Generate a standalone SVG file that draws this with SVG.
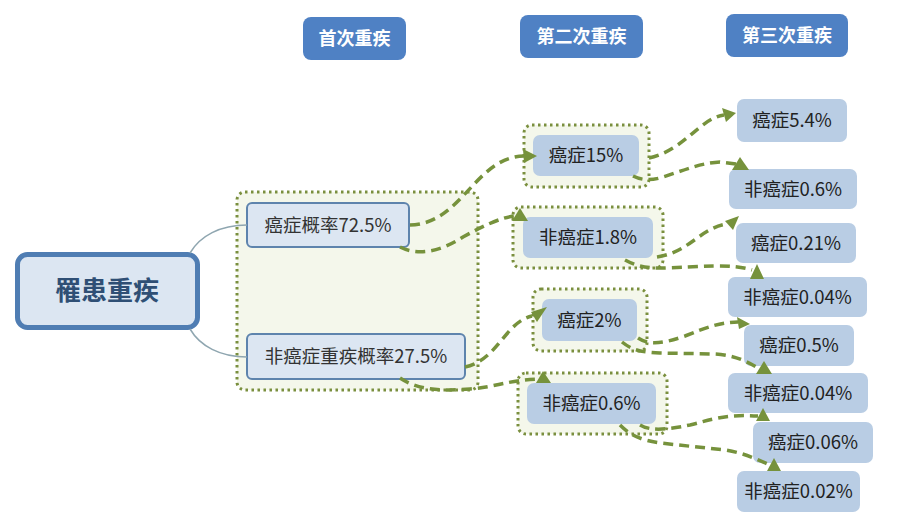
<svg xmlns="http://www.w3.org/2000/svg" width="900" height="527" viewBox="0 0 900 527">
<style>
text{font-family:"Noto Sans CJK SC","Noto Sans",sans-serif;text-anchor:middle}
.hdr rect{fill:#4f81c4}
.hdr text{fill:#fff;font-weight:bold;font-size:18px}
.grp{fill:#f4f7eb;stroke:#7a8f3e;stroke-width:3;stroke-dasharray:2.5 3.5}
.l1 rect{fill:#dce6f2;stroke:#5e84ad;stroke-width:2}
.l1 text{fill:#333;font-size:18.5px}
.nd rect{fill:#b9cde4}
.nd text{fill:#222;font-size:18.5px}
.tree{fill:none;stroke:#8fa6b0;stroke-width:1.5}
.dash{fill:none;stroke:#76923c;stroke-width:3.5;stroke-dasharray:10 6}
.ah{fill:#76923c}
</style>
<rect width="900" height="527" fill="#fff"/>

<g id="hdr1" class="hdr"><rect x="303" y="17" width="103" height="43" rx="8"/><text x="354.5" y="45">首次重疾</text></g>
<g id="hdr2" class="hdr"><rect x="520" y="15" width="123" height="43" rx="8"/><text x="581.5" y="43">第二次重疾</text></g>
<g id="hdr3" class="hdr"><rect x="726" y="14" width="122" height="43" rx="8"/><text x="787" y="42">第三次重疾</text></g>

<g id="grp-first"><rect class="grp" x="237" y="192" width="241" height="198" rx="8"/></g>
<g id="grp-c15"><rect class="grp" x="524" y="125" width="125" height="62" rx="8"/></g>
<g id="grp-n18"><rect class="grp" x="513" y="207" width="150" height="61" rx="8"/></g>
<g id="grp-c2"><rect class="grp" x="533" y="289" width="114" height="62" rx="8"/></g>
<g id="grp-n06"><rect class="grp" x="518" y="373" width="149" height="61" rx="8"/></g>

<g id="root"><rect x="17.5" y="254.5" width="180" height="73" rx="10" fill="#dce6f2" stroke="#4f7db3" stroke-width="5"/><text x="107" y="300" font-size="26" font-weight="bold" fill="#2f4f75">罹患重疾</text></g>

<g id="n-cancer" class="l1"><rect x="247" y="203" width="162" height="44" rx="5"/><text x="328" y="231.5">癌症概率72.5%</text></g>
<g id="n-noncancer" class="l1"><rect x="247" y="334" width="218" height="45" rx="5"/><text x="356" y="363">非癌症重疾概率27.5%</text></g>

<g id="n2-c15" class="nd"><rect x="533" y="135" width="106" height="41" rx="7"/><text x="586" y="162">癌症15%</text></g>
<g id="n2-n18" class="nd"><rect x="523" y="217" width="130" height="41" rx="7"/><text x="588" y="244">非癌症1.8%</text></g>
<g id="n2-c2" class="nd"><rect x="542" y="299" width="95" height="42" rx="7"/><text x="589.5" y="326.5">癌症2%</text></g>
<g id="n2-n06" class="nd"><rect x="527" y="383" width="129" height="41" rx="7"/><text x="591.5" y="410">非癌症0.6%</text></g>

<g id="n3-1" class="nd"><rect x="737" y="99" width="110" height="43" rx="7"/><text x="792" y="127">癌症5.4%</text></g>
<g id="n3-2" class="nd"><rect x="729" y="169" width="128" height="40" rx="7"/><text x="793" y="195.5">非癌症0.6%</text></g>
<g id="n3-3" class="nd"><rect x="736" y="223" width="120" height="40" rx="7"/><text x="796" y="249.5">癌症0.21%</text></g>
<g id="n3-4" class="nd"><rect x="728" y="277" width="139" height="40" rx="7"/><text x="797.5" y="303.5">非癌症0.04%</text></g>
<g id="n3-5" class="nd"><rect x="744" y="325" width="110" height="41" rx="7"/><text x="799" y="352">癌症0.5%</text></g>
<g id="n3-6" class="nd"><rect x="728" y="373" width="140" height="40" rx="7"/><text x="798" y="399.5">非癌症0.04%</text></g>
<g id="n3-7" class="nd"><rect x="753" y="422" width="120" height="41" rx="7"/><text x="813" y="449">癌症0.06%</text></g>
<g id="n3-8" class="nd"><rect x="737" y="471" width="123" height="41" rx="7"/><text x="798.5" y="498">非癌症0.02%</text></g>

<g id="connectors">
<path class="tree" d="M190,253 C200,236 220,225 247,225"/>
<path class="tree" d="M190,329 C200,346 220,357 247,357"/>

<path class="dash" d="M410,225 C462,224 475,157 524,156"/>
<path class="dash" d="M400,247 C418,256 440,252 463,237 C485,225 500,218 514,216"/>
<path class="dash" d="M649,158 C685,150 700,118 724,115"/>
<path class="dash" d="M633,176 Q645,182 660,178 C685,170 700,163 720,162 L736,164"/>
<path class="dash" d="M657,257 C690,252 700,228 727,224"/>
<path class="dash" d="M625,260 C640,268 650,268 665,268 C700,267 730,263 752,270"/>
<path class="dash" d="M465,367 C498,360 505,322 532,316"/>
<path class="dash" d="M400,378 C415,388 435,392 470,389 C495,387 510,380 538,379"/>
<path class="dash" d="M638,338 C650,346 665,343 685,336 C705,328 720,322 738,322"/>
<path class="dash" d="M622,342 C632,350 640,352 660,353 L715,354 C735,355 748,362 758,368"/>
<path class="dash" d="M640,425 C650,431 665,430 690,425 C710,420 725,414 758,416"/>
<path class="dash" d="M620,425 C630,435 640,440 660,443 L725,450 C745,453 758,460 770,465"/>

<polygon class="ah" points="537,156 523,149 524,163"/>
<polygon class="ah" points="520,208 512,221 528,221"/>
<polygon class="ah" points="736,113 722,108 726,122"/>
<polygon class="ah" points="740,157 732,170 749,170"/>
<polygon class="ah" points="739,216 725,221 733,230"/>
<polygon class="ah" points="757,264 750,279 764,279"/>
<polygon class="ah" points="547,307 531,312 537,322"/>
<polygon class="ah" points="543,371 536,383 551,383"/>
<polygon class="ah" points="750,324 737,317 739,329"/>
<polygon class="ah" points="764,361 756,374 772,374"/>
<polygon class="ah" points="763,408 756,421 770,421"/>
<polygon class="ah" points="774,458 767,471 781,471"/>
</g>
</svg>
